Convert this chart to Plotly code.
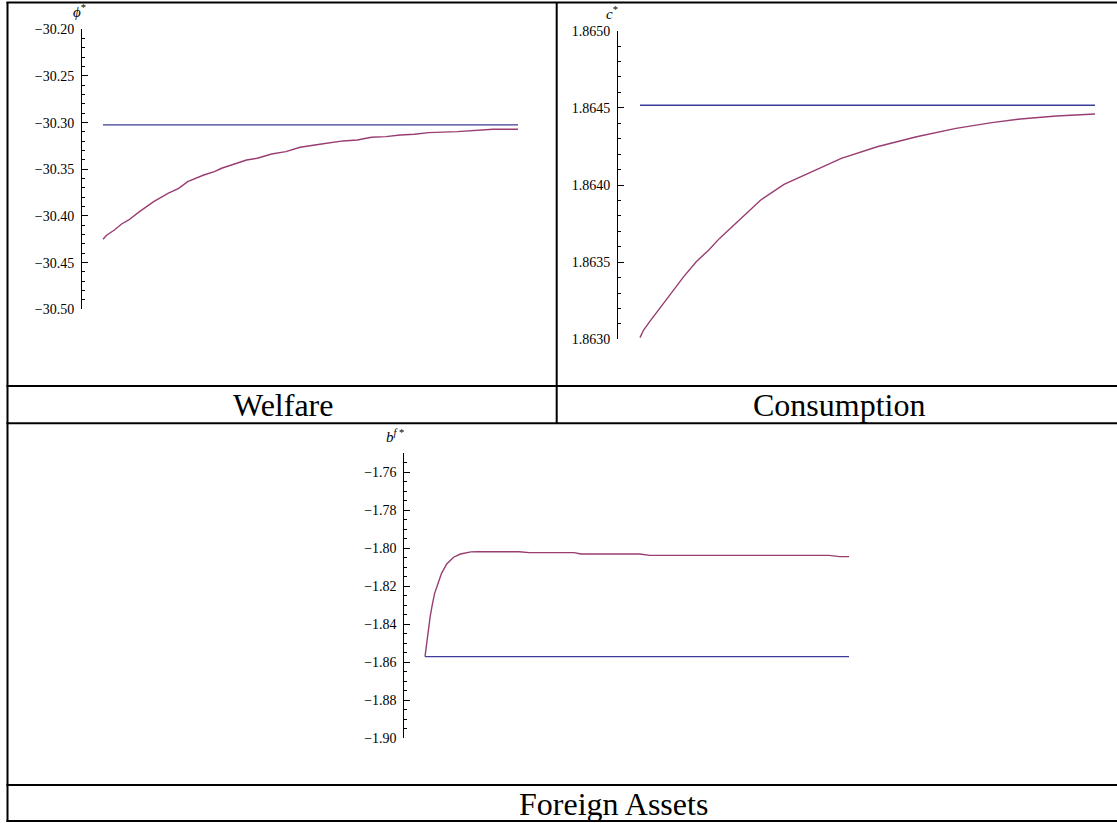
import plotly.graph_objects as go

W, H = 1117, 823

# ---------------- data ----------------
welfare_t = [0, 0.86, 2.75, 4.48, 6.2, 8.78, 12.22, 15.66, 18.24, 20.4, 24.27, 26.85, 28.57, 32.01,
             34.6, 37.18, 40.62, 44.06, 47.5, 52.67, 57.83, 61.27, 64.72, 68.16, 71.6, 75.04,
             78.49, 85.37, 88.81, 93.98, 100]
welfare_red = [-30.425, -30.4207, -30.415, -30.4086, -30.4043, -30.3954, -30.3846, -30.3757,
               -30.3704, -30.3632, -30.3561, -30.3525, -30.3489, -30.3436, -30.34, -30.3382,
               -30.3336, -30.3311, -30.3264, -30.3229, -30.3196, -30.3186, -30.3157, -30.315,
               -30.3132, -30.3125, -30.3107, -30.3096, -30.3086, -30.3071, -30.3071]
welfare_blue_t = [0, 100]
welfare_blue = [-30.3025, -30.3025]
welfare_ticks = [-30.50, -30.45, -30.40, -30.35, -30.30, -30.25, -30.20]

cons_t = [0, 0.79, 2.13, 4.09, 6.46, 9.61, 12.36, 15.12, 17.48, 20.63, 22.99, 26.54, 31.65,
          37.17, 44.25, 52.13, 60.79, 69.45, 77.32, 83.62, 91.5, 100]
cons_red = [1.863011, 1.86306, 1.863114, 1.86319, 1.863281, 1.863406, 1.863503, 1.863579,
            1.863654, 1.863741, 1.863806, 1.863903, 1.864004, 1.86408, 1.864173, 1.864248,
            1.864313, 1.864367, 1.864404, 1.864428, 1.864447, 1.86446]
cons_blue_t = [0, 100]
cons_blue = [1.864517, 1.864517]
cons_ticks = [1.8630, 1.8635, 1.8640, 1.8645, 1.8650]

fa_t = [0, 0.3, 0.65, 1.22, 1.71, 2.27, 3.09, 3.9, 5.12, 6.74, 8.37, 10.8, 12.43, 22.18, 24.61,
        35.17, 36.8, 50.61, 53.05, 95.29, 97.72, 100]
fa_red = [-1.857, -1.851, -1.8465, -1.836, -1.8298, -1.8237, -1.8184, -1.8132, -1.8082, -1.8047,
          -1.803, -1.8019, -1.8018, -1.8018, -1.8023, -1.8023, -1.803, -1.803, -1.8037, -1.8037,
          -1.8044, -1.8044]
fa_blue_t = [0, 100]
fa_blue = [-1.857, -1.857]
fa_ticks = [-1.90, -1.88, -1.86, -1.84, -1.82, -1.80, -1.78, -1.76]

panel_labels = ["Welfare", "Consumption", "Foreign Assets"]

BLUE = "#3d3d99"
RED = "#993d71"
FONT = "Times New Roman, Liberation Serif, serif"


def px(x):
    return x / W


def py(y):
    return 1 - y / H


fig = go.Figure()

panels = [
    (welfare_t, welfare_red, welfare_blue_t, welfare_blue, welfare_ticks, "%.2f", 0.01,
     (82, 103, 518), (29.3, 309.3), (-30.50, -30.20)),
    (cons_t, cons_red, cons_blue_t, cons_blue, cons_ticks, "%.4f", 0.0001,
     (618, 640, 1095), (30.7, 339.3), (1.8630, 1.8650)),
    (fa_t, fa_red, fa_blue_t, fa_blue, fa_ticks, "%.2f", 0.005,
     (404.4, 425, 849), (453.3, 738.3), (-1.90, -1.75)),
]

for i, (tr, yr, tb, yb, ticks, fmt, mdt, (ax, d0, d1), (yt, yb_), yrng) in enumerate(panels, start=1):
    xa = "x" if i == 1 else f"x{i}"
    ya = "y" if i == 1 else f"y{i}"
    fig.add_trace(go.Scatter(x=tb, y=yb, mode="lines", line=dict(color=BLUE, width=1.3),
                             xaxis=xa, yaxis=ya, showlegend=False, hoverinfo="skip"))
    fig.add_trace(go.Scatter(x=tr, y=yr, mode="lines", line=dict(color=RED, width=1.4),
                             xaxis=xa, yaxis=ya, showlegend=False, hoverinfo="skip"))
    x0 = -100 * (d0 - ax) / (d1 - d0)
    xkey = "xaxis" if i == 1 else f"xaxis{i}"
    ykey = "yaxis" if i == 1 else f"yaxis{i}"
    fig.update_layout(**{
        xkey: dict(domain=[px(ax), px(d1)], range=[x0, 100], visible=False, anchor=ya,
                   automargin=False),
        ykey: dict(domain=[py(yb_), py(yt)], range=list(yrng), anchor=xa, automargin=False,
                   showline=True, linecolor="black", linewidth=1,
                   showgrid=False, zeroline=False,
                   ticks="inside", ticklen=6, tickwidth=1, tickcolor="black",
                   ticklabelstandoff=4,
                   tickmode="array", tickvals=ticks,
                   ticktext=[(fmt % v).replace("-", "\u2212") for v in ticks],
                   tickfont=dict(family=FONT, size=14, color="black"),
                   minor=dict(ticks="inside", ticklen=3, tickwidth=1, tickcolor="black",
                              dtick=mdt, tick0=0, showgrid=False)),
    })

shapes = []


def hline(y, x0, x1):
    shapes.append(dict(type="line", xref="paper", yref="paper", x0=px(x0), x1=px(x1),
                       y0=py(y), y1=py(y), line=dict(color="black", width=2)))


def vline(x, y0, y1):
    shapes.append(dict(type="line", xref="paper", yref="paper", x0=px(x), x1=px(x),
                       y0=py(y0), y1=py(y1), line=dict(color="black", width=2)))


hline(2.5, 6.5, 1130)
hline(386, 6.5, 1130)
hline(423.3, 6.5, 1130)
hline(785, 6.5, 1130)
hline(821, 6.5, 1130)
vline(7.5, 2, 822)
vline(556.7, 2, 423.3)

annotations = []


def text(x, y, s, size):
    annotations.append(dict(x=px(x), y=py(y), xref="paper", yref="paper", text=s, showarrow=False,
                            xanchor="center", yanchor="middle",
                            font=dict(family=FONT, size=size, color="black")))


text(282.5, 405, panel_labels[0], 32)
text(839, 405, panel_labels[1], 32)
text(613, 804, panel_labels[2], 32)
text(79, 11, "<i>ϕ</i><sup>*</sup>", 15)
text(612, 13, "<i>c</i><sup>*</sup>", 15)
text(395, 436, "<i>b</i><sup><i>f</i> *</sup>", 15)

fig.update_layout(template="none", width=W, height=H, margin=dict(l=0, r=0, t=0, b=0, pad=0),
                  paper_bgcolor="white", plot_bgcolor="white",
                  font=dict(family=FONT, color="black"),
                  shapes=shapes, annotations=annotations, showlegend=False)

fig.write_html("out.html", config={"displayModeBar": False},
               post_script="document.body.style.margin='0px';document.body.style.overflow='hidden';")
